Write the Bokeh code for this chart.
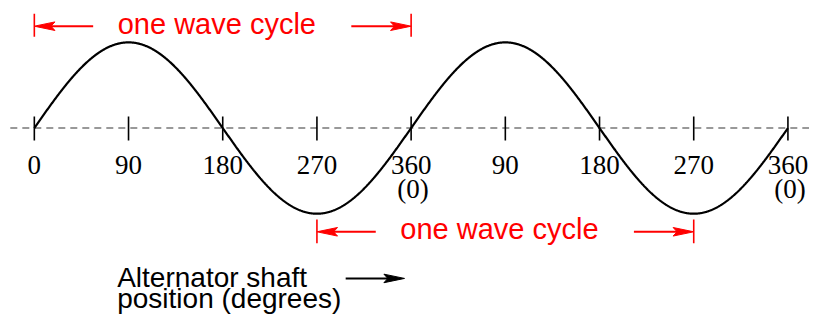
import numpy as np
from bokeh.plotting import figure
from bokeh.models import Range1d
from bokeh.core.properties import value
from bokeh.embed import file_html
from bokeh.resources import INLINE

# ---------------- data ----------------
tick_degrees = [0, 90, 180, 270, 360, 450, 540, 630, 720]
tick_labels = ["0", "90", "180", "270", "360", "90", "180", "270", "360"]
wrap_degrees = [360, 720]
wrap_labels = ["(0)", "(0)"]
amplitude = 1.0                       # peak of the alternator voltage (relative)
cycle_starts = [0, 270]               # "one wave cycle" brackets
cycle_ends = [360, 630]
cycle_label = "one wave cycle"
caption_lines = ["Alternator shaft", "position (degrees)"]

# the waveform is a sine of the shaft angle
deg = np.linspace(0, 720, 1441)
wave = amplitude * np.sin(np.radians(deg))

# ---------------- layout ----------------
W, H = 809, 316                 # plot size (fits the window with its margin)
REF_W, REF_H = 825, 332         # drawing space the layout is laid out in
REF_X0 = 34.5                   # position of 0 degrees
REF_PX_PER_DEG = 768.5 / 720.0
REF_Y0 = 134.0                  # position of the zero line
REF_PX_PER_UNIT = 90.0


def dx(px):
    return px / REF_PX_PER_DEG


def dy(px):
    return px / REF_PX_PER_UNIT


def at_x(px):
    return (px - REF_X0) / REF_PX_PER_DEG


def at_y(py):
    return (REF_Y0 - py) / REF_PX_PER_UNIT


def text_y(baseline, size, lift=0.37):
    # correction of the rendered text baseline (in em)
    return at_y(baseline - lift * size)


p = figure(width=W, height=H,
           x_range=Range1d(at_x(0), at_x(REF_W)),
           y_range=Range1d(at_y(REF_H), at_y(0)),
           output_backend="svg", toolbar_location=None,
           x_axis_location=None, y_axis_location=None,
           min_border=0, min_border_left=0, min_border_right=0,
           min_border_top=0, min_border_bottom=0)
p.grid.visible = False
p.outline_line_color = None
p.background_fill_color = "white"
p.border_fill_color = "white"

RED = "#ff0000"
NUM_SIZE = 27
RED_SIZE = 29
CAP_SIZE = 28

# dashed zero line
p.line(x=[at_x(10), at_x(REF_W)], y=[0, 0],
       line_color="#999999", line_width=2, line_dash="7 5")

# waveform
p.line(x=deg, y=wave, line_color="black", line_width=2.2)

# tick marks
n = len(tick_degrees)
p.segment(x0=tick_degrees, y0=[at_y(122)] * n,
          x1=tick_degrees, y1=[at_y(147)] * n,
          line_color="black", line_width=1.6)

# tick labels
p.text(x=tick_degrees, y=[text_y(183, NUM_SIZE)] * n, text=tick_labels,
       text_align="center", text_baseline="alphabetic",
       text_font=value("Liberation Serif"), text_font_size=f"{NUM_SIZE}px",
       text_color="black")
p.text(x=[d + dx(2) for d in wrap_degrees],
       y=[text_y(208, NUM_SIZE)] * len(wrap_degrees),
       text=wrap_labels, text_align="center", text_baseline="alphabetic",
       text_font=value("Liberation Serif"), text_font_size=f"{NUM_SIZE}px",
       text_color="black")

# "one wave cycle" brackets: arrow y, bar top, bar bottom, text baseline
bracket_rows = [
    (27, 14, 38, 33),
    (243, 230, 255, 248),
]
for a, b, (ay, bt, bb, tb) in zip(cycle_starts, cycle_ends, bracket_rows):
    yA = at_y(ay)
    # end bars
    p.segment(x0=[a, b], y0=[at_y(bt)] * 2, x1=[a, b], y1=[at_y(bb)] * 2,
              line_color=RED, line_width=1.6)
    # arrow shafts
    p.segment(x0=[a + dx(8), b - dx(61)], y0=[yA] * 2,
              x1=[a + dx(60), b - dx(8)], y1=[yA] * 2,
              line_color=RED, line_width=2)
    # arrow heads
    p.patches(xs=[[a, a + dx(21), a + dx(17), a + dx(21)],
                  [b, b - dx(21), b - dx(17), b - dx(21)]],
              ys=[[yA, yA + dy(4.5), yA, yA - dy(4.5)],
                  [yA, yA + dy(4.5), yA, yA - dy(4.5)]],
              fill_color=RED, line_color=RED, line_width=1)
    # label
    p.text(x=[(a + b) / 2 - dx(6)], y=[text_y(tb, RED_SIZE, 0.29)],
           text=[cycle_label],
           text_align="center", text_baseline="alphabetic",
           text_font=value("Liberation Sans"), text_font_size=f"{RED_SIZE}px",
           text_color=RED)

# caption with arrow
p.text(x=[at_x(119)] * 2, y=[text_y(301, CAP_SIZE), text_y(323, CAP_SIZE)],
       text=caption_lines, text_align="left", text_baseline="alphabetic",
       text_font=value("Liberation Sans"), text_font_size=f"{CAP_SIZE}px",
       text_color="black")
arr_y = at_y(292)
tip = at_x(412)
p.segment(x0=[at_x(352)], y0=[arr_y], x1=[tip - dx(8)], y1=[arr_y],
          line_color="black", line_width=2)
p.patch(x=[tip, tip - dx(21), tip - dx(17), tip - dx(21)],
        y=[arr_y, arr_y + dy(4.5), arr_y, arr_y - dy(4.5)],
        fill_color="black", line_color="black", line_width=1)

open("out.html", "w").write(file_html(p, INLINE))
